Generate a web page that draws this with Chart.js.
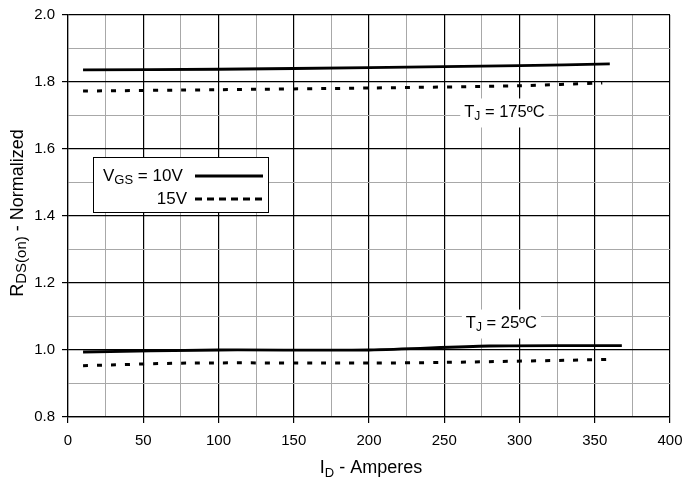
<!DOCTYPE html>
<html><head><meta charset="utf-8">
<script src="https://cdn.jsdelivr.net/npm/chart.js@4"></script>
<style>html,body{margin:0;padding:0;background:#fff}canvas{display:block}</style>
</head><body>
<canvas id="c" width="686" height="480"></canvas>
<script>
// Data
const x175_10 = [10, 100, 200, 300, 360];
const y175_10 = [1.836, 1.838, 1.843, 1.849, 1.854];
const x175_15 = [10, 100, 200, 300, 355];
const y175_15 = [1.773, 1.777, 1.782, 1.789, 1.797];
const x25_10 = [10, 100, 200, 280, 368];
const y25_10 = [0.994, 1.000, 1.000, 1.012, 1.013];
const x25_15 = [10, 80, 200, 250, 363];
const y25_15 = [0.953, 0.961, 0.961, 0.963, 0.972];
const xTicks = [0, 50, 100, 150, 200, 250, 300, 350, 400];
const yTicks = [0.8, 1.0, 1.2, 1.4, 1.6, 1.8, 2.0];
const legendLabels = ["10V", "15V"];
const annotations = [{temp: "175ºC", x: 290, y: 1.709}, {temp: "25ºC", x: 288, y: 1.079}];

const FONT = "'Liberation Sans', Arial, sans-serif";
const pts = (xs, ys) => xs.map((v, i) => ({x: v, y: ys[i]}));
const solid = {borderColor: '#000', borderWidth: 2.8, pointRadius: 0, fill: false, tension: 0.3};
const dotted = {borderColor: '#000', borderWidth: 3, borderDash: [5, 9], pointRadius: 0, fill: false, tension: 0.3};

function textWidth(ctx, parts) {
  let w = 0;
  parts.forEach(p => { ctx.font = p[1] + 'px ' + FONT; w += ctx.measureText(p[0]).width; });
  return w;
}
function drawSub(ctx, parts, x, y, align) {
  const w = textWidth(ctx, parts);
  let cx = align === 'center' ? x - w / 2 : (align === 'right' ? x - w : x);
  ctx.textAlign = 'left';
  parts.forEach(p => { ctx.font = p[1] + 'px ' + FONT; ctx.fillText(p[0], cx, y + p[2]); cx += ctx.measureText(p[0]).width; });
  return w;
}

const deco = {
  id: 'deco',
  beforeDatasetsDraw(chart) {
    const ctx = chart.ctx, xs = chart.scales.x, ys = chart.scales.y;
    ctx.save();
    ctx.textBaseline = 'middle';
    annotations.forEach(a => {
      const px = xs.getPixelForValue(a.x), py = ys.getPixelForValue(a.y);
      const parts = [['T', 16.5, 0], ['J', 12, 4], [' = ' + a.temp, 16.5, 0]];
      const w = textWidth(ctx, parts);
      ctx.fillStyle = '#fff';
      ctx.fillRect(px - w / 2 - 4, py - 14, w + 8, 29);
      ctx.fillStyle = '#000';
      drawSub(ctx, parts, px, py, 'center');
    });
    ctx.restore();
  },
  afterDraw(chart) {
    const ctx = chart.ctx;
    ctx.save();
    ctx.fillStyle = '#000';
    ctx.textBaseline = 'alphabetic';
    // legend box
    const bx = 93, by = 157, bw = 175, bh = 55;
    ctx.fillStyle = '#fff';
    ctx.fillRect(bx, by, bw, bh);
    ctx.strokeStyle = '#000'; ctx.lineWidth = 1;
    ctx.strokeRect(bx + 0.5, by + 0.5, bw, bh);
    ctx.fillStyle = '#000';
    drawSub(ctx, [['V', 17, 0], ['GS', 13, 3], [' = ' + legendLabels[0], 17, 0]], 103, 181, 'left');
    drawSub(ctx, [[legendLabels[1], 17, 0]], 187, 204, 'right');
    ctx.lineWidth = 2.8;
    ctx.beginPath(); ctx.moveTo(195, 176); ctx.lineTo(263, 176); ctx.stroke();
    ctx.setLineDash([7, 5]);
    ctx.beginPath(); ctx.moveTo(195, 199); ctx.lineTo(263, 199); ctx.stroke();
    ctx.setLineDash([]);
    // x title
    drawSub(ctx, [['I', 18, 0], ['D', 13, 4], [' - Amperes', 18, 0]], 371, 473, 'center');
    // y title
    ctx.translate(23, 213);
    ctx.rotate(-Math.PI / 2);
    drawSub(ctx, [['R', 18, 0], ['DS(on)', 15, 3], [' - Normalized', 18, 0]], 0, 0, 'center');
    ctx.restore();
  }
};

const isMajorX = v => Math.round(v) % 50 === 0;
const isMajorY = v => Math.round(v * 10) % 2 === 0;

new Chart(document.getElementById('c'), {
  type: 'line',
  data: {
    datasets: [
      Object.assign({label: '10V 175', data: pts(x175_10, y175_10)}, solid),
      Object.assign({label: '15V 175', data: pts(x175_15, y175_15)}, dotted),
      Object.assign({label: '10V 25', data: pts(x25_10, y25_10)}, solid),
      Object.assign({label: '15V 25', data: pts(x25_15, y25_15)}, dotted)
    ]
  },
  options: {
    responsive: false,
    animation: false,
    devicePixelRatio: 1,
    layout: {padding: {top: 15, right: 16, left: 0, bottom: 0}},
    plugins: {legend: {display: false}, tooltip: {enabled: false}},
    scales: {
      x: {
        type: 'linear', min: 0, max: 400,
        afterBuildTicks: s => { const t = []; for (let v = 0; v <= 400; v += 25) t.push({value: v}); s.ticks = t; },
        afterFit: s => { s.height = 63; s.paddingLeft = 0; s.paddingRight = 0; },
        ticks: {
          autoSkip: false, maxRotation: 0, padding: 9,
          color: '#000', font: {family: FONT, size: 15},
          callback: v => isMajorX(v) && xTicks.includes(v) ? String(v) : ''
        },
        grid: {
          color: c => isMajorX(c.tick.value) ? '#000' : '#a8a8a8',
          lineWidth: c => isMajorX(c.tick.value) ? 1.2 : 1,
          tickLength: 6,
          tickColor: c => isMajorX(c.tick.value) ? '#000' : 'rgba(0,0,0,0)'
        },
        border: {display: true, color: '#000', width: 1.2}
      },
      y: {
        type: 'linear', min: 0.8, max: 2.0,
        afterBuildTicks: s => { const t = []; for (let i = 8; i <= 20; i++) t.push({value: i / 10}); s.ticks = t; },
        afterFit: s => { s.width = 68; s.paddingTop = 0; s.paddingBottom = 0; },
        ticks: {
          autoSkip: false, padding: 7,
          color: '#000', font: {family: FONT, size: 15},
          callback: v => isMajorY(v) && yTicks.some(t => Math.abs(t - v) < 1e-6) ? v.toFixed(1) : ''
        },
        grid: {
          color: c => isMajorY(c.tick.value) ? '#000' : '#a8a8a8',
          lineWidth: c => isMajorY(c.tick.value) ? 1.2 : 1,
          tickLength: 6,
          tickColor: c => isMajorY(c.tick.value) ? '#000' : 'rgba(0,0,0,0)'
        },
        border: {display: true, color: '#000', width: 1.2}
      }
    }
  },
  plugins: [deco]
});
</script>
</body></html>
